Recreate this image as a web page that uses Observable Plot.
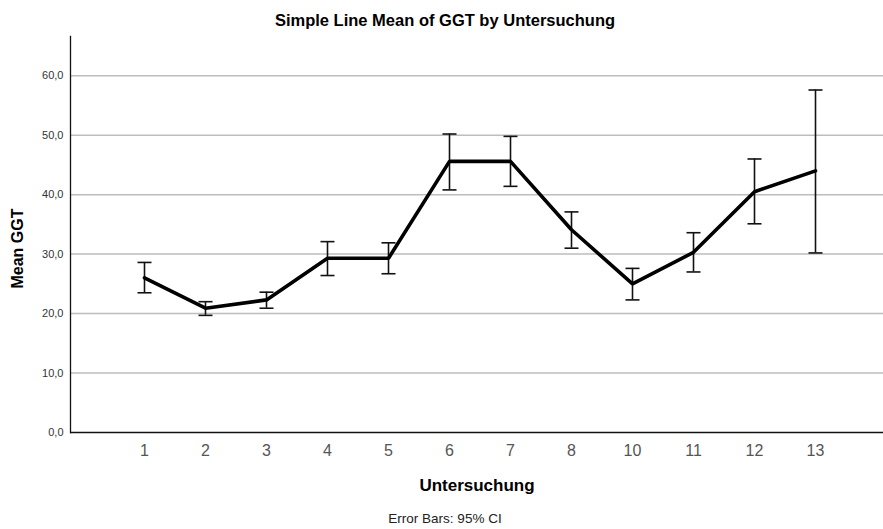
<!DOCTYPE html>
<html>
<head>
<meta charset="utf-8">
<script src="https://cdn.jsdelivr.net/npm/d3@7"></script>
<script src="https://cdn.jsdelivr.net/npm/@observablehq/plot@0.6"></script>
<style>
  html, body { margin: 0; padding: 0; background: #fff; overflow: hidden; }
  body { width: 883px; height: 529px; font-family: "Liberation Sans", Arial, sans-serif; }
  #title { height: 34px; width: 890px; text-align: center; font-weight: bold; font-size: 16.5px; line-height: 16px; padding-top: 12px; box-sizing: border-box; color: #000; }
  #caption { width: 890px; text-align: center; font-size: 13.5px; line-height: 14px; color: #222; margin-top: 14px; }
  #chart svg { display: block; }
</style>
</head>
<body>
<div id="title">Simple Line Mean of GGT by Untersuchung</div>
<div id="chart"></div>
<div id="caption">Error Bars: 95% CI</div>
<script>
const categories = ["1", "2", "3", "4", "5", "6", "7", "8", "10", "11", "12", "13"];
const means = [26.0, 20.9, 22.3, 29.3, 29.3, 45.6, 45.6, 34.1, 25.0, 30.3, 40.5, 44.0];
const lower = [23.5, 19.7, 20.9, 26.4, 26.7, 40.8, 41.4, 31.0, 22.3, 27.0, 35.1, 30.2];
const upper = [28.6, 22.0, 23.6, 32.1, 31.9, 50.2, 49.8, 37.1, 27.6, 33.6, 46.0, 57.6];
const yTicks = [0, 10, 20, 30, 40, 50, 60];

const data = categories.map((c, i) => ({cat: c, mean: means[i], lo: lower[i], hi: upper[i]}));
const fmt = d => d.toFixed(1).replace(".", ",");

// horizontal cap symbol for error bars
const capSymbol = {draw(ctx) { ctx.moveTo(-7, 0); ctx.lineTo(7, 0); }};

const chart = Plot.plot({
  width: 883,
  height: 464,
  marginTop: 2,
  marginLeft: 70,
  marginRight: 0,
  marginBottom: 66,
  style: {fontFamily: "'Liberation Sans', Arial, sans-serif", background: "#fff"},
  x: {type: "point", domain: categories, range: [142, 816], padding: 0},
  y: {domain: [0, 66.6], ticks: yTicks},
  marks: [
    Plot.gridY(yTicks.filter(d => d > 0), {stroke: "#bdbdbd", strokeOpacity: 1, strokeWidth: 1.5}),
    Plot.axisY(yTicks, {tickSize: 0, tickPadding: 7, tickFormat: fmt, fontSize: 11, fill: "#333",
      label: "Mean GGT", labelAnchor: "center", labelArrow: "none", labelOffset: 59}),
    Plot.axisX({tickSize: 0, tickPadding: 12, fontSize: 16, fill: "#555",
      label: "Untersuchung", labelAnchor: "center", labelArrow: "none", labelOffset: 58}),
    Plot.ruleY([0], {stroke: "#111", strokeWidth: 1.3}),
    Plot.frame({anchor: "left", stroke: "#111", strokeWidth: 1.3}),
    Plot.ruleX(data, {x: "cat", y1: "lo", y2: "hi", stroke: "#111", strokeWidth: 1.6}),
    Plot.dot(data, {x: "cat", y: "lo", symbol: capSymbol, r: 7, fill: "none", stroke: "#111", strokeWidth: 1.6}),
    Plot.dot(data, {x: "cat", y: "hi", symbol: capSymbol, r: 7, fill: "none", stroke: "#111", strokeWidth: 1.6}),
    Plot.line(data, {x: "cat", y: "mean", stroke: "#000", strokeWidth: 3.6, strokeLinejoin: "miter"})
  ]
});
document.getElementById("chart").appendChild(chart);

// style axis labels bold
chart.querySelectorAll("[aria-label='y-axis label'] text, [aria-label='x-axis label'] text").forEach(t => {
  t.setAttribute("font-weight", "bold");
  t.setAttribute("font-size", "16");
  t.setAttribute("fill", "#000");
});
chart.querySelectorAll("[aria-label='x-axis label'] text").forEach(t => t.setAttribute("font-size", "17"));
const yl = chart.querySelector("[aria-label='y-axis label']");
if (yl) yl.setAttribute("transform", (yl.getAttribute("transform") || "") + " translate(0,14)");
</script>
</body>
</html>
